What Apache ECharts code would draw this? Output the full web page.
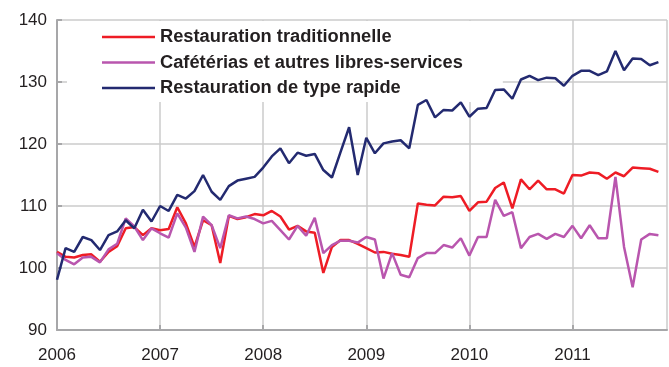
<!DOCTYPE html>
<html>
<head>
<meta charset="utf-8">
<script src="https://cdn.jsdelivr.net/npm/echarts@6/dist/echarts.min.js"></script>
<style>
  html, body { margin: 0; padding: 0; background: #fff; }
  #chart { width: 669px; height: 367px; }
</style>
</head>
<body>
<div id="chart"></div>
<script>
// Monthly indices, January 2006 to November 2011
const startYear = 2006;
const yearLabels = ['2006', '2007', '2008', '2009', '2010', '2011'];
const seriesNames = [
  'Restauration traditionnelle',
  'Cafétérias et autres libres-services',
  'Restauration de type rapide'
];

const traditionnelle = [
  102.6, 101.8, 101.7, 102.1, 102.2, 101.0, 102.6, 103.5, 106.4, 106.6, 105.3, 106.4,
  106.1, 106.3, 109.8, 107.2, 103.4, 107.7, 106.9, 100.8, 108.4, 107.9, 108.2, 108.7,
  108.5, 109.2, 108.3, 106.2, 106.8, 105.9, 105.7, 99.2, 103.4, 104.5, 104.5, 103.9,
  103.2, 102.5, 102.6, 102.3, 102.1, 101.8, 110.4, 110.2, 110.1, 111.5, 111.4, 111.6,
  109.2, 110.6, 110.7, 112.9, 113.8, 109.6, 114.3, 112.7, 114.1, 112.7, 112.7, 112.0,
  115.0, 114.9, 115.4, 115.3, 114.4, 115.4, 114.8, 116.2, 116.1, 116.0, 115.5
];

const cafeterias = [
  102.4, 101.3, 100.6, 101.7, 101.8, 100.9, 103.0, 103.9, 108.0, 106.7, 104.5, 106.4,
  105.6, 104.9, 108.8, 106.5, 102.6, 108.3, 106.9, 103.2, 108.5, 108.0, 108.3, 107.9,
  107.2, 107.6, 106.1, 104.6, 106.8, 105.2, 108.1, 102.4, 103.7, 104.4, 104.4, 104.1,
  105.0, 104.6, 98.3, 102.4, 98.9, 98.5, 101.6, 102.4, 102.4, 103.7, 103.3, 104.8,
  102.0, 105.0, 105.0, 111.0, 108.4, 109.0, 103.2, 105.0, 105.5, 104.7, 105.5, 105.0,
  106.8, 104.8, 106.9, 104.8, 104.8, 114.7, 103.4, 96.9, 104.6, 105.5, 105.3
];

const rapide = [
  98.1, 103.2, 102.6, 105.0, 104.5, 102.9, 105.3, 105.9, 107.7, 106.4, 109.4, 107.5,
  110.0, 109.2, 111.8, 111.2, 112.4, 115.0, 112.3, 111.0, 113.2, 114.1, 114.4, 114.7,
  116.2, 118.0, 119.3, 116.9, 118.6, 118.1, 118.4, 115.8, 114.6, 118.7, 122.7, 115.0,
  121.0, 118.5, 120.1, 120.4, 120.6, 119.3, 126.3, 127.1, 124.3, 125.5, 125.4, 126.7,
  124.4, 125.7, 125.8, 128.7, 128.8, 127.3, 130.4, 131.0, 130.3, 130.7, 130.6, 129.4,
  131.0, 131.8, 131.8, 131.1, 131.7, 135.0, 131.9, 133.8, 133.7, 132.7, 133.2
];

const colors = ['#ee1c25', '#b956ae', '#232a70'];
const textColor = '#231f20';
const font = '"Liberation Sans", Arial, sans-serif';

const toPairs = arr => arr.map((v, i) => [i, v]);

const chart = echarts.init(document.getElementById('chart'));
chart.setOption({
  animation: false,
  backgroundColor: '#fff',
  grid: { left: 57, right: 2, top: 20, bottom: 37 },
  legend: {
    orient: 'vertical',
    left: 67,
    top: 21,
    z: 1, // white box sits over the grid lines but under the series
    padding: [7, 40, 5, 35],
    backgroundColor: '#fff',
    icon: 'rect',
    itemWidth: 53,
    itemHeight: 2.5,
    itemGap: 7.5,
    data: seriesNames,
    textStyle: {
      fontFamily: font,
      fontSize: 18.3,
      fontWeight: 'bold',
      color: textColor,
      lineHeight: 18
    }
  },
  xAxis: {
    type: 'value',
    min: 0,
    max: 71,
    interval: 12,
    axisLine: { show: true, onZero: false, lineStyle: { color: '#a7a7a9', width: 2 } },
    axisTick: { show: true, inside: true, length: 5, lineStyle: { color: '#a7a7a9', width: 2 } },
    splitLine: { show: true, lineStyle: { color: '#cbcbcb', width: 1.5 } },
    axisLabel: {
      fontFamily: font,
      fontSize: 17,
      color: textColor,
      margin: 17,
      showMaxLabel: false,
      formatter: v => (v % 12 === 0 ? yearLabels[v / 12] || String(startYear + v / 12) : '')
    }
  },
  yAxis: {
    type: 'value',
    min: 90,
    max: 140,
    interval: 10,
    axisLine: { show: true, lineStyle: { color: '#a7a7a9', width: 2 } },
    axisTick: { show: true, inside: true, length: 5, lineStyle: { color: '#a7a7a9', width: 2 } },
    splitLine: { show: true, lineStyle: { color: '#cbcbcb', width: 1.5 } },
    axisLabel: {
      fontFamily: font,
      fontSize: 17,
      color: textColor,
      margin: 10
    }
  },
  series: [
    { name: seriesNames[0], data: toPairs(traditionnelle), color: colors[0] },
    { name: seriesNames[1], data: toPairs(cafeterias), color: colors[1] },
    { name: seriesNames[2], data: toPairs(rapide), color: colors[2] }
  ].map(s => Object.assign({
    type: 'line',
    z: 3,
    showSymbol: false,
    symbol: 'none',
    lineStyle: { width: 2.5, color: s.color },
    itemStyle: { color: s.color }
  }, s))
});
</script>
</body>
</html>
